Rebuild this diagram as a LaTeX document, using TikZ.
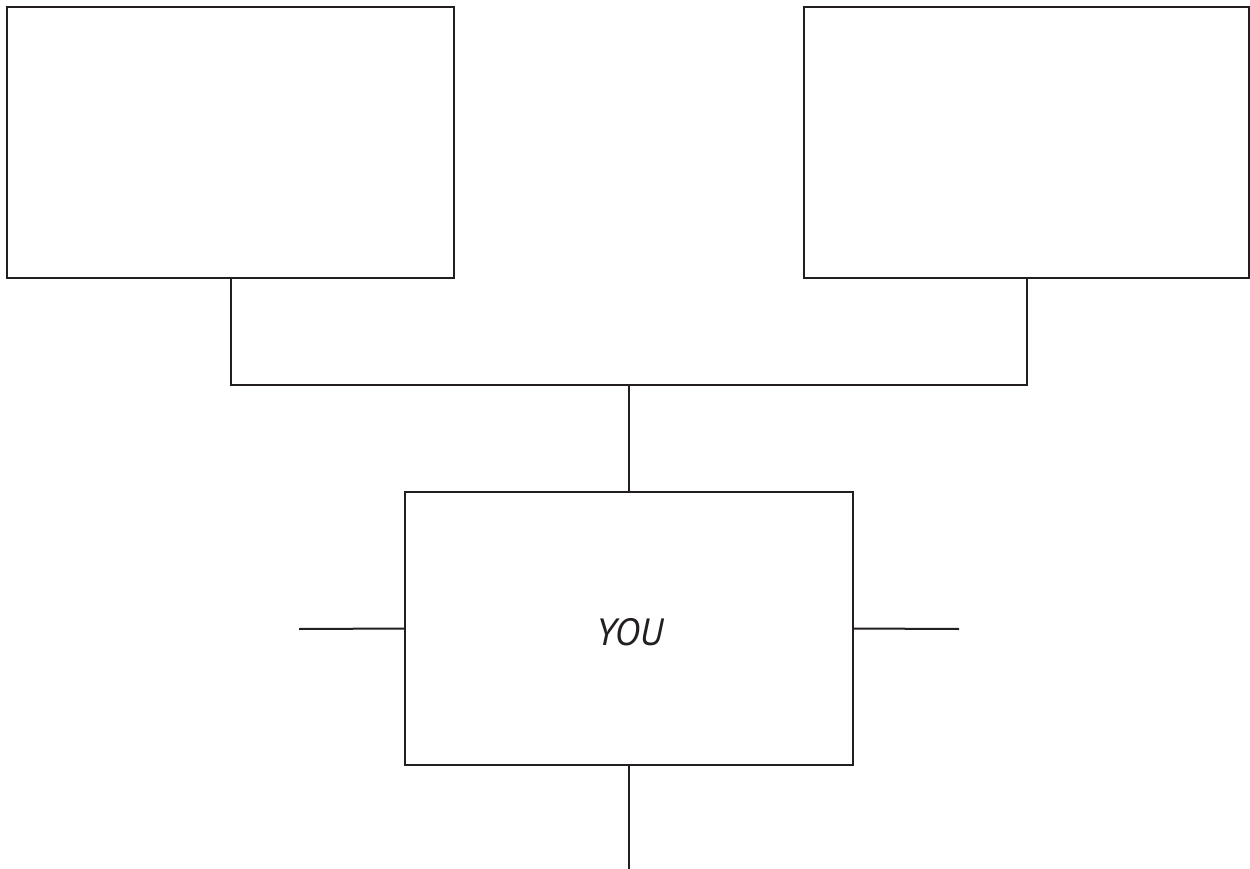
\documentclass[tikz,border=0pt]{standalone}
\usepackage{fontspec}
\newfontfamily\youfont{PT Sans}
\definecolor{ink}{HTML}{231F20}
\tikzset{
  box/.style={draw=ink, line width=2pt, fill=white, inner sep=0pt, outer sep=0pt},
  conn/.style={draw=ink, line width=2pt},
  lbl/.style={text=ink, inner sep=0pt, text depth=0pt, font=\youfont\itshape\fontsize{38}{42}\selectfont},
}
\begin{document}
\begin{tikzpicture}[x=1pt,y=-1pt]
\useasboundingbox[fill=white] (0,0) rectangle (1250,869);
\node[box, minimum width=447pt, minimum height=271pt] (L) at (230.5,142.5) {};
\node[box, minimum width=445pt, minimum height=271pt] (R) at (1026.5,142.5) {};
\node[box, minimum width=448pt, minimum height=273pt] (Y) at (629,628.5) {};
\node[lbl] (you) at (629.5,632) {YOU};
\coordinate (J) at (629,385);
\coordinate (WL) at (299,629);
\coordinate (WR) at (959,629);
\coordinate (SB) at (629,870);
\draw[conn] (L.south) |- (J) -| (R.south);
\draw[conn] (J) -- (Y.north);
\draw[conn] (WL) -- (Y.west);
\draw[conn] (Y.east) -- (WR);
\draw[conn] (Y.south) -- (SB);
\end{tikzpicture}
\end{document}
